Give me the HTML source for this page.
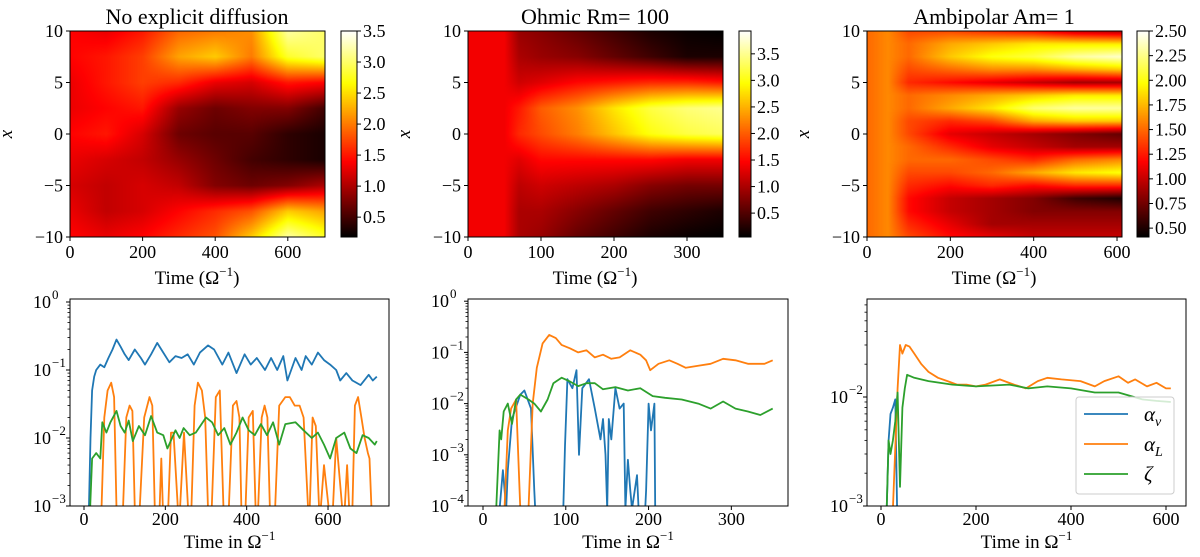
<!DOCTYPE html>
<html><head><meta charset="utf-8">
<style>
html,body{margin:0;padding:0;background:#fff;width:1200px;height:557px;overflow:hidden;}
#wrap{position:relative;width:1200px;height:557px;overflow:hidden;font-family:"Liberation Serif",serif;}
canvas{position:absolute;}
svg{position:absolute;left:0;top:0;overflow:hidden;}
text{font-family:"Liberation Serif",serif;fill:#000;}
</style></head>
<body>
<div id="wrap">
<canvas id="h1" width="255" height="206" style="left:70px;top:31px"></canvas>
<canvas id="h2" width="255" height="206" style="left:468px;top:31px"></canvas>
<canvas id="h3" width="255" height="206" style="left:867px;top:31px"></canvas>
<canvas id="c1" width="16" height="206" style="left:341px;top:31px"></canvas>
<canvas id="c2" width="12" height="206" style="left:739px;top:31px"></canvas>
<canvas id="c3" width="12" height="206" style="left:1137px;top:31px"></canvas>
<svg id="s" width="1200" height="557" font-family="Liberation Serif, serif" xmlns="http://www.w3.org/2000/svg"></svg>
</div>
<script>
// ---------- heatmap data ----------
const h1Times=[0,100,200,300,400,500,600,700];
const h1Rows=[10,7.5,5,2.5,0,-2.5,-5,-7.5,-10];
const h1Grid=[
[1.4,1.3,1.5,1.9,2.0,2.1,3.2,3.0],
[1.4,1.5,1.7,2.2,2.4,2.0,2.8,3.0],
[1.3,1.5,1.7,1.6,1.3,1.2,1.5,1.4],
[1.3,1.4,1.5,0.9,0.7,0.8,0.8,0.5],
[1.4,1.5,1.2,0.7,0.6,0.6,0.4,0.3],
[1.3,1.2,1.1,0.9,0.7,0.5,0.4,0.3],
[1.2,1.1,1.2,1.1,0.8,0.7,0.8,1.0],
[1.3,1.1,1.2,1.4,1.6,1.8,2.4,2.2],
[1.4,1.3,1.4,1.6,1.8,2.4,3.2,2.8]];
const h2Times=[0,50,70,100,150,200,250,300,350];
const h2Rows=[10,7.5,5,2.5,0,-2.5,-5,-7.5,-10];
const h2Grid=[
[1.4,1.4,0.9,0.8,0.6,0.4,0.2,0.1,0.05],
[1.4,1.4,1.0,0.9,0.8,0.6,0.4,0.2,0.2],
[1.4,1.4,1.2,1.3,1.5,1.6,1.7,1.7,1.6],
[1.4,1.4,1.6,2.0,2.3,2.8,3.2,3.4,3.5],
[1.4,1.4,1.7,1.9,2.2,2.6,3.0,3.2,3.3],
[1.4,1.4,1.3,1.5,1.5,1.5,1.5,1.4,1.4],
[1.4,1.4,1.1,1.2,1.1,1.0,0.8,0.7,0.7],
[1.4,1.4,1.0,1.0,0.8,0.6,0.4,0.3,0.2],
[1.4,1.4,1.0,0.9,0.6,0.4,0.2,0.1,0.05]];
const h3Times=[0,50,100,200,300,400,500,612];
const h3Rows=[10,8.75,7.5,6.25,5,3.75,2.5,1.25,0,-1.25,-2.5,-3.75,-5,-6.25,-7.5,-8.75,-10];
const h3Grid=[
[1.5,1.6,1.4,1.4,1.3,1.2,1.0,0.9],
[1.5,1.6,1.5,1.7,1.8,1.9,1.9,1.9],
[1.5,1.6,1.5,1.8,2.0,2.1,2.3,2.4],
[1.5,1.6,1.4,1.5,1.6,1.6,1.7,1.8],
[1.5,1.6,1.3,1.2,1.1,1.0,0.9,0.9],
[1.5,1.6,1.5,1.6,1.7,1.8,1.9,1.9],
[1.5,1.6,1.5,1.7,1.9,2.2,2.3,2.3],
[1.5,1.6,1.4,1.3,1.4,1.7,1.8,1.8],
[1.5,1.6,1.4,1.1,1.0,0.9,0.8,0.7],
[1.5,1.6,1.5,1.3,1.1,1.0,0.9,0.9],
[1.5,1.6,1.5,1.5,1.4,1.3,1.5,1.6],
[1.5,1.6,1.4,1.4,1.5,1.7,1.9,2.0],
[1.5,1.6,1.3,1.2,1.3,1.2,1.3,1.3],
[1.5,1.6,1.2,1.0,0.9,0.8,0.6,0.5],
[1.5,1.6,1.2,1.0,0.9,0.8,0.8,0.8],
[1.5,1.6,1.3,1.1,0.9,0.9,0.9,0.9],
[1.5,1.6,1.4,1.2,1.1,1.0,1.0,1.0]];
const cb1Ticks=[0.5,1.0,1.5,2.0,2.5,3.0,3.5];
const cb2Ticks=[0.5,1.0,1.5,2.0,2.5,3.0,3.5];
const cb3Ticks=[0.5,0.75,1.0,1.25,1.5,1.75,2.0,2.25,2.5];
const heatYTicks=[-10,-5,0,5,10];
const heat1XTicks=[0,200,400,600];
const heat2XTicks=[0,100,200,300];
const heat3XTicks=[0,200,400,600];
// ---------- line data (1e-8 = below axis) ----------
const p1BlueT=[12,16,20,25,30,40,50,60,70,80,90,100,110,125,140,150,165,180,195,210,225,240,255,270,285,305,320,340,355,375,395,410,425,445,460,475,490,500,520,535,545,560,575,590,605,620,630,645,660,680,700,710,720];
const p1BlueV=[0.0009,0.01,0.05,0.08,0.1,0.12,0.11,0.15,0.2,0.28,0.22,0.17,0.14,0.2,0.15,0.12,0.17,0.25,0.18,0.13,0.16,0.15,0.17,0.12,0.18,0.23,0.2,0.12,0.18,0.09,0.17,0.12,0.15,0.1,0.15,0.1,0.16,0.07,0.15,0.1,0.16,0.12,0.18,0.14,0.12,0.1,0.07,0.09,0.07,0.06,0.085,0.07,0.08];
const p1OrangeT=[43,50,58,67,74,80,96,104,112,119,125,137,148,161,168,174,186,190,194,207,214,220,231,236,246,256,264,272,280,290,298,305,314,324,334,343,356,366,375,382,387,397,405,415,422,428,437,444,451,457,470,480,495,506,518,530,540,551,555,562,570,578,582,590,602,612,620,635,641,647,652,660,666,674,682,690,698,702,707];
const p1OrangeV=[1e-8,0.02,0.05,0.065,0.04,1e-8,1e-8,0.02,0.03,0.025,1e-8,1e-8,0.02,0.04,0.03,1e-8,1e-8,0.005,1e-8,1e-8,0.012,0.012,1e-8,1e-8,0.012,1e-8,1e-8,0.03,0.065,0.05,0.02,1e-8,1e-8,0.04,0.05,1e-8,1e-8,0.03,0.035,0.02,1e-8,1e-8,0.02,0.025,1e-8,1e-8,0.02,0.03,0.02,1e-8,1e-8,0.03,0.04,0.04,0.03,0.03,0.02,1e-8,1e-8,0.02,0.015,1e-8,1e-8,0.004,1e-8,1e-8,0.01,1e-8,1e-8,0.004,1e-8,1e-8,0.03,0.04,0.02,0.01,0.006,0.005,1e-8];
const p1GreenT=[15,20,30,40,45,55,65,80,90,100,110,120,135,150,165,180,195,205,225,235,245,260,275,300,315,330,345,360,375,390,405,420,435,450,465,480,495,520,540,560,575,590,605,620,640,655,670,685,700,715,720];
const p1GreenV=[0.0008,0.005,0.006,0.005,0.017,0.012,0.017,0.025,0.015,0.012,0.018,0.009,0.015,0.011,0.021,0.012,0.011,0.007,0.013,0.01,0.014,0.011,0.012,0.02,0.017,0.011,0.014,0.008,0.012,0.02,0.013,0.011,0.016,0.011,0.017,0.008,0.016,0.017,0.013,0.01,0.012,0.008,0.005,0.01,0.012,0.007,0.006,0.011,0.01,0.008,0.009];
const p2OrangeT=[26,30,34,40,45,55,60,65,72,80,88,95,105,115,125,135,145,155,165,178,190,197,202,212,225,235,245,260,275,290,305,320,340,350];
const p2OrangeV=[1e-8,0.003,0.008,0.012,1e-8,1e-8,0.01,0.05,0.15,0.22,0.19,0.14,0.12,0.1,0.11,0.08,0.09,0.075,0.08,0.11,0.09,0.07,0.045,0.06,0.07,0.06,0.05,0.055,0.06,0.075,0.07,0.06,0.06,0.07];
const p2GreenT=[16,20,22,25,30,35,40,45,55,62,70,78,85,95,105,115,125,135,145,160,175,190,205,220,240,260,275,290,305,320,335,350];
const p2GreenV=[1e-8,0.003,0.002,0.007,0.01,0.004,0.012,0.015,0.012,0.01,0.007,0.012,0.025,0.032,0.027,0.022,0.025,0.025,0.019,0.021,0.018,0.02,0.014,0.013,0.012,0.01,0.008,0.011,0.008,0.007,0.006,0.008];
const p2BlueT=[20,24,28,30,35,45,50,58,62,63,97,99,102,108,113,116,120,128,135,142,145,148,150,152,155,160,165,170,172,175,178,180,186,188,196,197,200,203,207,208];
const p2BlueV=[1e-8,0.0005,1e-8,0.0005,0.005,0.015,0.018,0.008,0.0002,1e-8,1e-8,0.0015,0.03,0.02,0.045,0.001,0.02,0.03,0.008,0.002,0.005,0.001,1e-8,0.005,0.002,0.02,0.008,0.01,1e-8,0.0008,0.0002,1e-8,0.0004,1e-8,1e-8,0.0002,0.01,0.003,0.01,1e-8];
const p3BlueT=[12,16,20,25,30,34];
const p3BlueV=[1e-8,0.004,0.007,0.008,0.0095,1e-8];
const p3OrangeT=[25,35,40,45,52,60,70,85,100,120,140,160,180,200,220,250,280,305,330,350,380,420,450,470,500,520,535,560,580,600,610];
const p3OrangeV=[1e-8,0.012,0.03,0.025,0.03,0.029,0.025,0.02,0.017,0.015,0.014,0.013,0.013,0.0125,0.013,0.0145,0.013,0.012,0.014,0.015,0.0145,0.014,0.0125,0.014,0.0155,0.0135,0.0145,0.0125,0.0135,0.012,0.012];
const p3GreenT=[12,16,20,25,30,35,40,45,50,55,70,100,150,200,270,310,350,400,450,500,550,580,610];
const p3GreenV=[1e-8,0.004,0.003,0.004,0.006,0.011,0.0015,0.008,0.012,0.016,0.015,0.014,0.013,0.0125,0.013,0.012,0.0125,0.012,0.011,0.011,0.0095,0.0092,0.009];
const p1YTicks=[-3,-2,-1,0];
const p2YTicks=[-4,-3,-2,-1,0];
const p3YTicks=[-3,-2];
const p1XTicks=[0,200,400,600];
const p2XTicks=[0,100,200,300];
const p3XTicks=[0,200,400,600];

// ---------- helpers ----------
const NS="http://www.w3.org/2000/svg";
const svg=document.getElementById('s');
function mk(tag,attrs,parent){const e=document.createElementNS(NS,tag);for(const k in attrs)e.setAttribute(k,attrs[k]);(parent||svg).appendChild(e);return e;}
function hot(v){const r=Math.min(1,Math.max(0,v/0.365)),g=Math.min(1,Math.max(0,(v-0.365)/0.381)),b=Math.min(1,Math.max(0,(v-0.746)/0.254));return [r*255,g*255,b*255];}
function interp(arr,x){if(x<=arr[0])return [0,0,0];for(let i=0;i<arr.length-1;i++){if(x<=arr[i+1])return [i,i+1,(x-arr[i])/(arr[i+1]-arr[i])];}const n=arr.length-1;return [n,n,0];}
function heat(id,times,rows,grid,vmin,vmax,tmax){
 const c=document.getElementById(id),ctx=c.getContext('2d'),w=c.width,h=c.height,img=ctx.createImageData(w,h);
 const rAsc=rows.map(r=>-r);
 for(let py=0;py<h;py++){const xv=10-20*(py+0.5)/h;const [r0,r1,fr]=interp(rAsc,-xv);
  for(let px=0;px<w;px++){const t=tmax*(px+0.5)/w;const [c0,c1,fc]=interp(times,t);
   const a=grid[r0][c0]*(1-fc)+grid[r0][c1]*fc,b=grid[r1][c0]*(1-fc)+grid[r1][c1]*fc;
   const v=a*(1-fr)+b*fr;const col=hot((v-vmin)/(vmax-vmin));const k=(py*w+px)*4;
   img.data[k]=col[0];img.data[k+1]=col[1];img.data[k+2]=col[2];img.data[k+3]=255;}}
 ctx.putImageData(img,0,0);}
function cbar(id){const c=document.getElementById(id),ctx=c.getContext('2d');for(let y=0;y<c.height;y++){const col=hot(1-(y+0.5)/c.height);ctx.fillStyle='rgb('+col.map(Math.round).join(',')+')';ctx.fillRect(0,y,c.width,1);}}
heat('h1',h1Times,h1Rows,h1Grid,0.18,3.5,702);
heat('h2',h2Times,h2Rows,h2Grid,0.05,3.93,349);
heat('h3',h3Times,h3Rows,h3Grid,0.41,2.5,612);
cbar('c1');cbar('c2');cbar('c3');

function heatPanel(x0,scale,xticks,title,cbx,cbw,cbticks,vmin,vmax,dec){
 const g=mk('g',{});
 
 
 const t=mk('text',{x:x0+127,y:24,'text-anchor':'middle','font-size':22},g);t.textContent=title;
 
 
 mk('rect',{x:x0,y:31,width:255,height:206,fill:'none',stroke:'#000','stroke-width':1},g);
 heatYTicks.forEach(v=>{const y=237-(v+10)/20*206;mk('line',{x1:x0-4,x2:x0,y1:y,y2:y,stroke:'#000'},g);
  const l=mk('text',{x:x0-7,y:y+6,'text-anchor':'end','font-size':18},g);l.textContent=(v<0?'\u2212':'')+Math.abs(v);});
 xticks.forEach(v=>{const x=x0+v*scale;mk('line',{x1:x,x2:x,y1:237,y2:241,stroke:'#000'},g);
  const l=mk('text',{x:x,y:258,'text-anchor':'middle','font-size':18},g);l.textContent=v;});
 const yl=mk('text',{x:0,y:0,'font-size':19,'font-style':'italic','text-anchor':'middle',transform:'translate('+(x0-58)+',134) rotate(-90)'},g);yl.textContent='x';
 const xl=mk('text',{x:x0+127,y:284,'text-anchor':'middle','font-size':19},g);xl.innerHTML='Time (\u03A9<tspan dy="-8" font-size="13">\u22121</tspan><tspan dy="8">)</tspan>';
 mk('rect',{x:cbx,y:31,width:cbw,height:206,fill:'none',stroke:'#000'},g);
 cbticks.forEach(v=>{const y=237-(v-vmin)/(vmax-vmin)*206;mk('line',{x1:cbx+cbw,x2:cbx+cbw+4,y1:y,y2:y,stroke:'#000'},g);
  const l=mk('text',{x:cbx+cbw+6,y:y+6,'font-size':18},g);l.textContent=v.toFixed(dec);});
}
heatPanel(70,0.363,heat1XTicks,'No explicit diffusion',341,16,cb1Ticks,0.18,3.5,1);
heatPanel(468,0.73,heat2XTicks,'Ohmic Rm= 100',739,12,cb2Ticks,0.05,3.93,1);
heatPanel(867,0.4167,heat3XTicks,'Ambipolar Am= 1',1137,12,cb3Ticks,0.41,2.5,2);

const defs=mk('defs',{});
function linePanel(id,x0,x1,t0x,xs,ymin,dec,yticks,xticks,series){
 const top=299,bot=506;
 const X=t=>t0x+t*xs, Y=v=>bot-(Math.log10(v)-ymin)*dec;
 const cp=mk('clipPath',{id:id},defs);mk('rect',{x:x0,y:top,width:x1-x0,height:bot-top},cp);
 const g=mk('g',{});
 
 
 const lg=mk('g',{'clip-path':'url(#'+id+')'},g);
 series.forEach(s=>{const p=mk('polyline',{points:s.t.map((t,i)=>X(t).toFixed(1)+','+Math.min(bot+3,Y(Math.max(s.v[i],1e-12))).toFixed(1)).join(' '),fill:'none',stroke:s.c,'stroke-width':1.8,'stroke-linejoin':'round'},lg);
  
  });
 mk('rect',{x:x0,y:top,width:x1-x0,height:bot-top,fill:'none',stroke:'#000'},g);
 const ymaxL=ymin+(bot-top)/dec;
 for(let d=Math.floor(ymin);d<ymaxL;d++){for(let k=2;k<10;k++){const lv=d+Math.log10(k);if(lv>ymin&&lv<ymaxL){const y=bot-(lv-ymin)*dec;mk('line',{x1:x0-2.5,x2:x0,y1:y,y2:y,stroke:'#000','stroke-width':0.8},g);}}}
 yticks.forEach(d=>{const y=bot-(d-ymin)*dec;mk('line',{x1:x0-4,x2:x0,y1:y,y2:y,stroke:'#000'},g);
  const l=mk('text',{x:x0-19,y:y+6,'text-anchor':'end','font-size':18},g);l.textContent='10';
  const s=mk('text',{x:x0-18,y:y-3,'font-size':13},g);s.textContent=d===0?'0':'\u2212'+Math.abs(d);});
 xticks.forEach(v=>{const x=X(v);mk('line',{x1:x,x2:x,y1:bot,y2:bot+4,stroke:'#000'},g);
  const l=mk('text',{x:x,y:525,'text-anchor':'middle','font-size':18},g);l.textContent=v;});
 const xl=mk('text',{x:(x0+x1)/2,y:548,'text-anchor':'middle','font-size':19},g);xl.innerHTML='Time in \u03A9<tspan dy="-8" font-size="13">\u22121</tspan>';
}
const C1='#1f77b4',C2='#ff7f0e',C3='#2ca02c';
linePanel('cp1',70,389,84,0.4067,-3,68,p1YTicks,p1XTicks,[{t:p1BlueT,v:p1BlueV,c:C1,n:'alpha-nu-line'},{t:p1OrangeT,v:p1OrangeV,c:C2,n:'alpha-l-line'},{t:p1GreenT,v:p1GreenV,c:C3,n:'zeta-line'}]);
linePanel('cp2',468,788,483,0.8278,-4,51.2,p2YTicks,p2XTicks,[{t:p2BlueT,v:p2BlueV,c:C1,n:'alpha-nu-line'},{t:p2OrangeT,v:p2OrangeV,c:C2,n:'alpha-l-line'},{t:p2GreenT,v:p2GreenV,c:C3,n:'zeta-line'}]);
linePanel('cp3',867,1186,881,0.475,-3,109,p3YTicks,p3XTicks,[{t:p3BlueT,v:p3BlueV,c:C1,n:'alpha-nu-line'},{t:p3OrangeT,v:p3OrangeV,c:C2,n:'alpha-l-line'},{t:p3GreenT,v:p3GreenV,c:C3,n:'zeta-line'}]);

// legend
const lg=mk('g',{});


mk('rect',{x:1076,y:397,width:98,height:97,rx:3,fill:'#fff','fill-opacity':0.8,stroke:'#ccc'},lg);
[['\u03B1','\u03BD',C1],['\u03B1','L',C2],['\u03B6','',C3]].forEach((e,i)=>{const y=414+i*30;
 mk('line',{x1:1084,x2:1128,y1:y,y2:y,stroke:e[2],'stroke-width':1.8},lg);
 const t=mk('text',{x:1144,y:y+7,'font-size':21,'font-style':'italic'},lg);
 t.innerHTML=e[0]+(e[1]?'<tspan dy="5" font-size="14">'+e[1]+'</tspan>':'');
 
 });
</script>
</body></html>
